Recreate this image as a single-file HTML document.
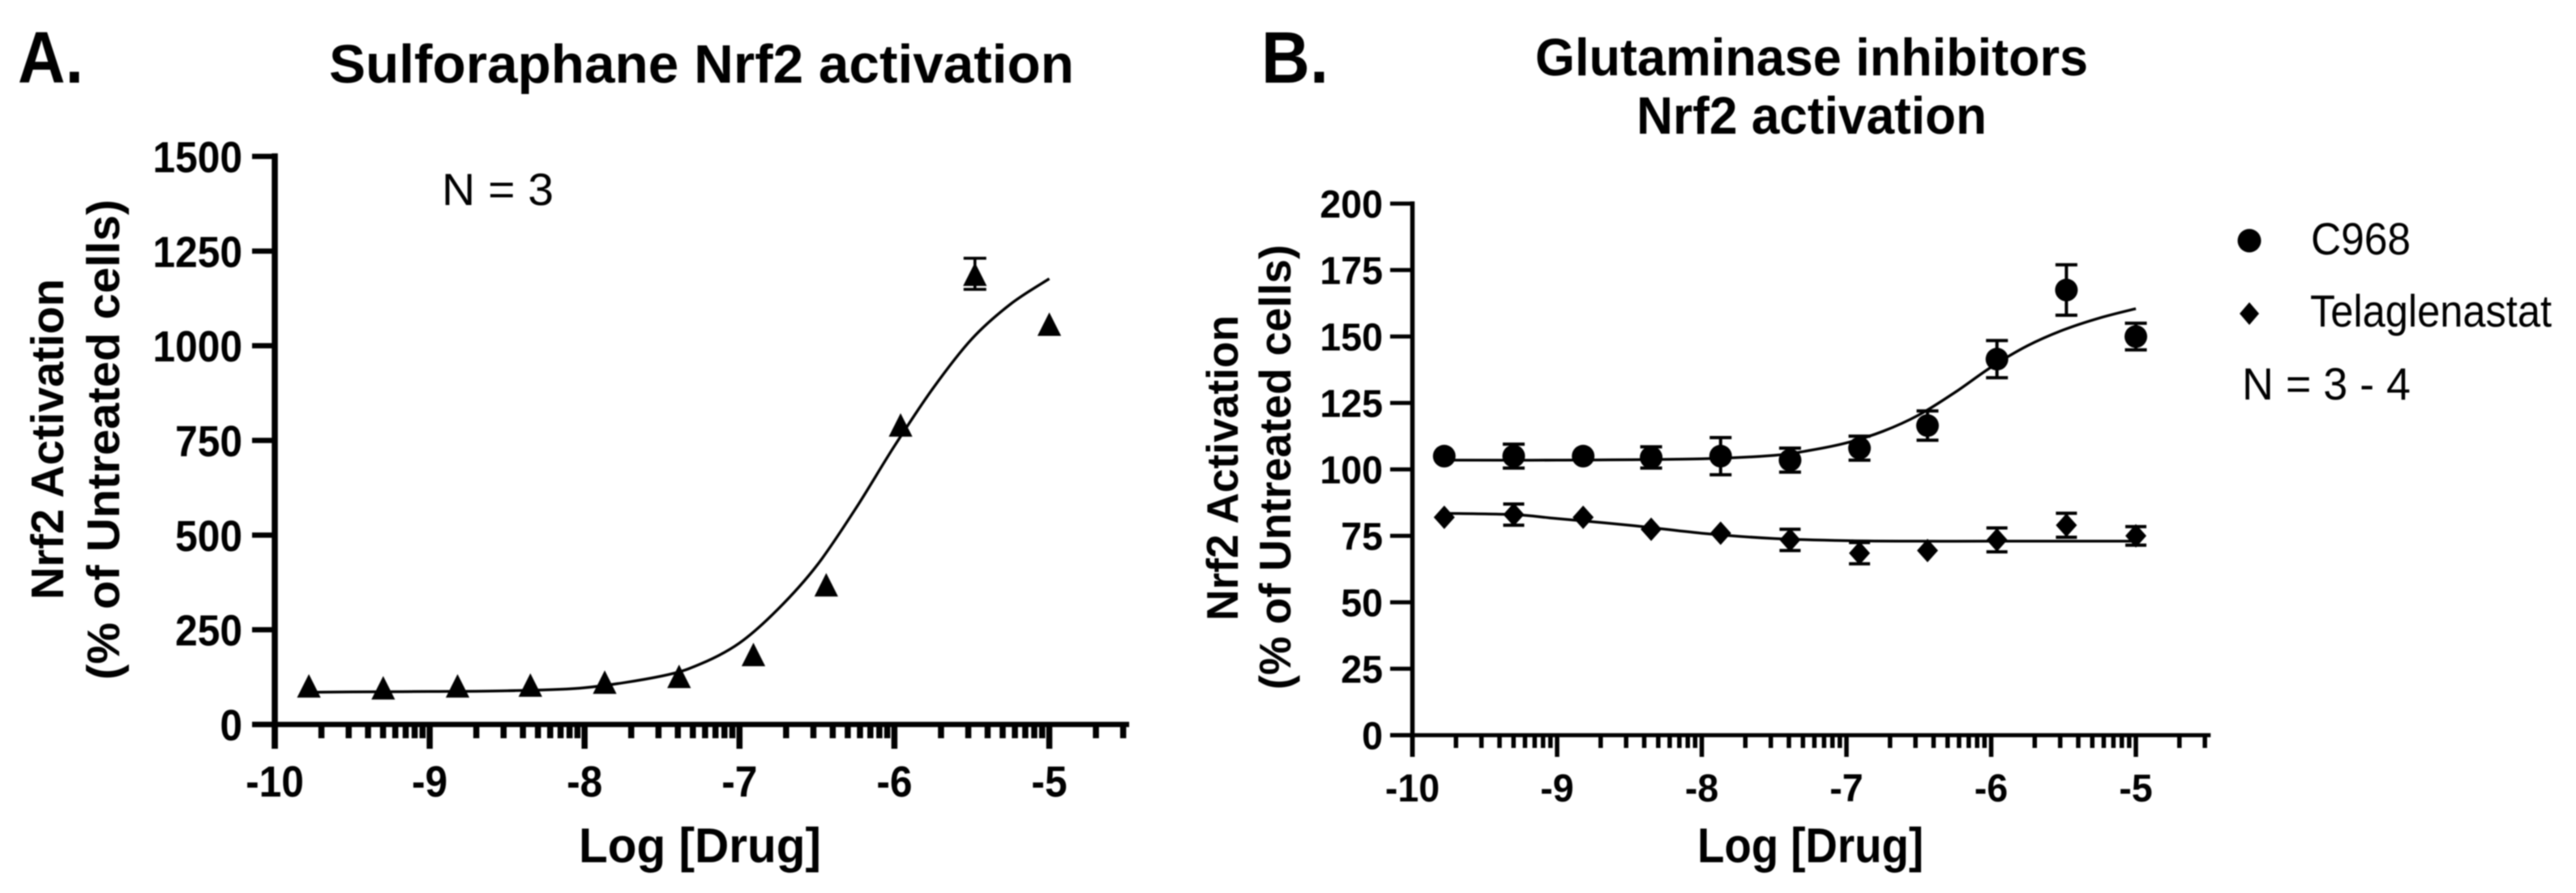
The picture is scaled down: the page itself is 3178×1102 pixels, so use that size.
<!DOCTYPE html>
<html lang="en">
<head>
<meta charset="utf-8">
<title>Nrf2 activation dose-response charts</title>
<style>
  html, body { margin: 0; padding: 0; background: #fff; }
  svg { display: block; filter: blur(0.7px); }
  text { font-family: "Liberation Sans", sans-serif; fill: #000; }
  .b { font-weight: bold; }
</style>
</head>
<body>
<svg id="fig" xmlns="http://www.w3.org/2000/svg" width="3178" height="1102" viewBox="0 0 3178 1102">
  <rect width="3178" height="1102" fill="#fff"/>

  <text class="b" x="22" y="102" font-size="90" textLength="81" lengthAdjust="spacingAndGlyphs">A.</text>
  <text class="b" x="406" y="102" font-size="67" textLength="919" lengthAdjust="spacingAndGlyphs">Sulforaphane Nrf2 activation</text>
  <text x="545" y="253" font-size="56" textLength="138" lengthAdjust="spacingAndGlyphs">N = 3</text>
  <text class="b" x="714" y="1064" font-size="60" textLength="299" lengthAdjust="spacingAndGlyphs">Log [Drug]</text>
  <text class="b" transform="translate(78,740) rotate(-90)" font-size="57" textLength="396" lengthAdjust="spacingAndGlyphs">Nrf2 Activation</text>
  <text class="b" transform="translate(147,839) rotate(-90)" font-size="57" textLength="593" lengthAdjust="spacingAndGlyphs">(% of Untreated cells)</text>

  <text class="b" x="1556" y="102" font-size="90" textLength="83" lengthAdjust="spacingAndGlyphs">B.</text>
  <text class="b" x="1894" y="93" font-size="65" textLength="682" lengthAdjust="spacingAndGlyphs">Glutaminase inhibitors</text>
  <text class="b" x="2019" y="165" font-size="65" textLength="432" lengthAdjust="spacingAndGlyphs">Nrf2 activation</text>
  <text class="b" x="2094" y="1064" font-size="60" textLength="279" lengthAdjust="spacingAndGlyphs">Log [Drug]</text>
  <text class="b" transform="translate(1527,766) rotate(-90)" font-size="55" textLength="377" lengthAdjust="spacingAndGlyphs">Nrf2 Activation</text>
  <text class="b" transform="translate(1592,851) rotate(-90)" font-size="55" textLength="549" lengthAdjust="spacingAndGlyphs">(% of Untreated cells)</text>

  <g>
    <circle cx="2775" cy="297" r="14.5" fill="#000"/>
    <text x="2851" y="314" font-size="56" textLength="123" lengthAdjust="spacingAndGlyphs">C968</text>
    <polygon points="2775,373 2787,387 2775,401 2763,387" fill="#000"/>
    <text x="2850" y="403" font-size="56" textLength="298" lengthAdjust="spacingAndGlyphs">Telaglenastat</text>
    <text x="2766" y="493" font-size="56" textLength="208" lengthAdjust="spacingAndGlyphs">N = 3 - 4</text>
  </g>

  <g id="panelA"></g>
  <g id="panelB"></g>
</svg>

<script>
// Shared dose categories (log molar)
const doses = [-9.78, -9.3, -8.82, -8.35, -7.87, -7.39, -6.91, -6.44, -5.96, -5.48, -5];
const xTicks = [-10, -9, -8, -7, -6, -5];
const minorFractions = [0.301, 0.477, 0.602, 0.699, 0.778, 0.845, 0.903, 0.954];
const extraMinorFractions = [0.301, 0.477];

// Panel A: Sulforaphane
const yTicksA = [0, 250, 500, 750, 1000, 1250, 1500];
const sulforaphane = [103, 98, 103, 105, 113, 128, 186, 370, 792, 1190, 1058];
const sulforaphaneErr = [0, 0, 0, 0, 0, 0, 0, 0, 0, 41, 0];
const curveDosesA = [-9.78, -9.5, -9, -8.5, -8, -7.5, -7.25, -7, -6.75, -6.5, -6.25, -6, -5.75, -5.5, -5.25, -5];
const curveValuesA = [85, 86, 87, 89, 97, 128, 160, 215, 305, 420, 570, 735, 888, 1018, 1110, 1177];

// Panel B: Glutaminase inhibitors
const yTicksB = [0, 25, 50, 75, 100, 125, 150, 175, 200];
const c968 = [105, 105, 105, 104.5, 105, 103.5, 108, 116.5, 141.5, 167.5, 150];
const c968Err = [0, 4.5, 0, 4, 7, 4.5, 4.5, 5.5, 7, 9.5, 5];
const telaglenastat = [82, 83, 82, 77.5, 76, 73.5, 68.5, 69.5, 73.5, 79, 75];
const telaglenastatErr = [0, 4, 0, 0, 0, 4, 4, 0, 4.5, 4.5, 3.5];
const curveDosesB = [-9.78, -9, -8, -7.5, -7.25, -7, -6.75, -6.5, -6.25, -6, -5.75, -5.5, -5.25, -5];
const curveC968 = [103.5, 103.5, 104, 105.3, 107.2, 110, 114.3, 120.5, 129, 138.5, 146.5, 152.5, 157, 160.5];
const curveDosesT = [-9.78, -9.3, -9, -8.5, -8, -7.5, -7, -6.5, -6, -5];
const curveTelaglenastat = [83.5, 83, 81.5, 79, 76, 74, 73.2, 73, 73, 73];

const NS = 'http://www.w3.org/2000/svg';
function mk(parent, tag, attrs) {
  const el = document.createElementNS(NS, tag);
  for (const k in attrs) el.setAttribute(k, attrs[k]);
  parent.appendChild(el);
  return el;
}
function smoothPath(pts) {
  let d = 'M' + pts[0][0] + ',' + pts[0][1];
  for (let i = 0; i < pts.length - 1; i++) {
    const p0 = pts[Math.max(i - 1, 0)], p1 = pts[i], p2 = pts[i + 1], p3 = pts[Math.min(i + 2, pts.length - 1)];
    const c1x = p1[0] + (p2[0] - p0[0]) / 6, c1y = p1[1] + (p2[1] - p0[1]) / 6;
    const c2x = p2[0] - (p3[0] - p1[0]) / 6, c2y = p2[1] - (p3[1] - p1[1]) / 6;
    d += ' C' + c1x + ',' + c1y + ' ' + c2x + ',' + c2y + ' ' + p2[0] + ',' + p2[1];
  }
  return d;
}
function drawAxes(g, o) {
  const xs = o.xs, ys = o.ys;
  const yAxis = mk(g, 'line', {x1: xs(-10), x2: xs(-10), y1: ys(o.yMax) - o.w / 2, y2: o.majorBottom, stroke: '#000', 'stroke-width': o.w});
  
  
  const xAxis = mk(g, 'line', {x1: o.yTickLeft, x2: xs(-4.5) + 3, y1: ys(0), y2: ys(0), stroke: '#000', 'stroke-width': o.h});
  
  
  o.yTicks.forEach(function (v) {
    const t = mk(g, 'line', {x1: o.yTickLeft, x2: xs(-10), y1: ys(v), y2: ys(v), stroke: '#000', 'stroke-width': o.h});
    
    
    const l = mk(g, 'text', {class: 'b', 'text-anchor': 'end', 'font-size': o.font,
      transform: 'translate(' + o.yLabelRight + ',' + (ys(v) + o.font * 0.36) + ') scale(' + o.squeeze + ',1)'});
    l.textContent = String(v);
    
    
  });
  xTicks.forEach(function (v) {
    const t = mk(g, 'line', {x1: xs(v), x2: xs(v), y1: ys(0), y2: o.majorBottom, stroke: '#000', 'stroke-width': o.tw});
    
    
    const l = mk(g, 'text', {class: 'b', 'text-anchor': 'middle', 'font-size': o.font,
      transform: 'translate(' + xs(v) + ',' + o.xLabelBase + ') scale(' + o.squeeze + ',1)'});
    l.textContent = String(v);
    
    
    const fr = v === -5 ? extraMinorFractions : minorFractions;
    fr.forEach(function (f) {
      const m = mk(g, 'line', {x1: xs(v + f), x2: xs(v + f), y1: ys(0), y2: o.minorBottom, stroke: '#000', 'stroke-width': o.tw});
      
      
    });
  });
}
function drawCurve(g, xs, ys, dx, dy, name) {
  const pts = dx.map(function (x, i) { return [xs(x), ys(dy[i])]; });
  const c = mk(g, 'path', {d: smoothPath(pts), fill: 'none', stroke: '#000', 'stroke-width': 3.4});
  
  
}
function drawError(g, xs, ys, i, vals, errs, capW, sw, name) {
  if (errs[i] <= 0) return;
  const x = xs(doses[i]), hi = ys(vals[i] + errs[i]), lo = ys(vals[i] - errs[i]);
  const e = mk(g, 'path', {d: 'M' + x + ',' + hi + 'V' + lo + 'M' + (x - capW) + ',' + hi + 'H' + (x + capW) + 'M' + (x - capW) + ',' + lo + 'H' + (x + capW),
    fill: 'none', stroke: '#000', 'stroke-width': sw});
  
  
}

// Panel A
(function () {
  const g = document.getElementById('panelA');
  const xs = function (v) { return 339 + (v + 10) * 191.1; };
  const ys = function (v) { return 894 - v * 701 / 1500; };
  drawAxes(g, {xs: xs, ys: ys, yMax: 1500, yTicks: yTicksA, w: 7.5, h: 6.5, tw: 7.5, yTickLeft: 311, yLabelRight: 299,
    majorBottom: 924, minorBottom: 911, font: 54, squeeze: 0.92, xLabelBase: 983});
  drawCurve(g, xs, ys, curveDosesA, curveValuesA, 'sulforaphane-fit-curve');
  doses.forEach(function (d, i) {
    drawError(g, xs, ys, i, sulforaphane, sulforaphaneErr, 14, 3.6, 'sulforaphane-error-bar');
    const x = xs(d), y = ys(sulforaphane[i]);
    const m = mk(g, 'polygon', {points: x + ',' + (y - 14) + ' ' + (x + 14.6) + ',' + (y + 15) + ' ' + (x - 14.6) + ',' + (y + 15), fill: '#000'});
    
    
  });
})();

// Panel B
(function () {
  const g = document.getElementById('panelB');
  const xs = function (v) { return 1742.5 + (v + 10) * 178.5; };
  const ys = function (v) { return 907.3 - v * 656 / 200; };
  drawAxes(g, {xs: xs, ys: ys, yMax: 200, yTicks: yTicksB, w: 5.5, h: 5, tw: 5.5, yTickLeft: 1715, yLabelRight: 1706,
    majorBottom: 934, minorBottom: 923, font: 48, squeeze: 0.97, xLabelBase: 989});
  drawCurve(g, xs, ys, curveDosesB, curveC968, 'c968-fit-curve');
  drawCurve(g, xs, ys, curveDosesT, curveTelaglenastat, 'telaglenastat-fit-curve');
  doses.forEach(function (d, i) {
    drawError(g, xs, ys, i, c968, c968Err, 13.5, 4, 'c968-error-bar');
    drawError(g, xs, ys, i, telaglenastat, telaglenastatErr, 13, 4, 'telaglenastat-error-bar');
    const x = xs(d);
    const p = mk(g, 'circle', {cx: x, cy: ys(c968[i]), r: 14, fill: '#000'});
    
    
    const y = ys(telaglenastat[i]);
    const q = mk(g, 'polygon', {points: x + ',' + (y - 14.5) + ' ' + (x + 13) + ',' + y + ' ' + x + ',' + (y + 14.5) + ' ' + (x - 13) + ',' + y, fill: '#000'});
    
    
  });
})();
</script>
</body>
</html>
